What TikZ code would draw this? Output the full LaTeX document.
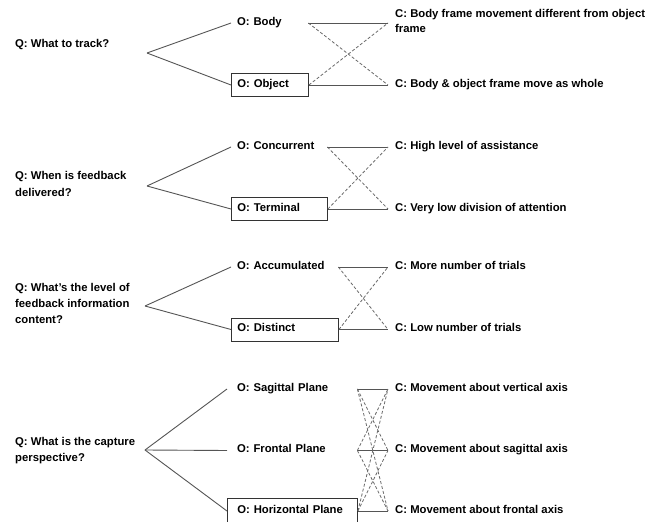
\documentclass[tikz,border=0pt]{standalone}
\usepackage{fontspec}
\setmainfont{Liberation Sans}
\definecolor{linegray}{HTML}{555555}
\definecolor{dashgray}{HTML}{6A6A6A}
\definecolor{boxgray}{HTML}{333333}
\begin{document}
\begin{tikzpicture}[x=1pt,y=-1pt,
  every node/.style={font=\fontsize{11.3}{16}\selectfont\bfseries, text=black},
  qtext/.style={anchor=north west, align=left, inner sep=0pt},
  opt/.style={anchor=west, rectangle, inner xsep=6pt, inner ysep=0pt,
              text height=9pt, text depth=5pt, minimum height=23pt, align=left},
  chosen/.style={draw=boxgray, line width=0.9pt},
  cons/.style={anchor=west, inner xsep=7pt, inner ysep=0pt,
               text height=9pt, text depth=5pt},
  fan/.style={draw=linegray, line width=0.9pt},
  link/.style={draw=linegray, line width=0.9pt},
  cross/.style={draw=dashgray, line width=0.8pt, dash pattern=on 3pt off 2pt}
]
\fill[white] (0,0) rectangle (649,522);
\useasboundingbox (0,0) rectangle (649,522);

% ---------- What to track ----------
\node[qtext] (q1) at (15,38.7) {Q: What to track?};
\coordinate (a1) at (147,53);
\node[opt, text width=65pt] (o11) at (231,23) {O: Body};
\node[opt, chosen, text width=65pt] (o12) at (231,85) {O: Object};
\node[anchor=north west, align=left, inner xsep=7pt, inner ysep=0pt] (c11) at (388,8.7)
  {C: Body frame movement different from object\\[-1pt]frame};
\node[cons] (c12) at (388,85) {C: Body \& object frame move as whole};
\coordinate (e11) at (o11.east -| c11.west);
\coordinate (e12) at (o12.east -| c12.west);
\draw[fan] (a1) -- (o11.west);
\draw[fan] (a1) -- (o12.west);
\draw[link] (o11.east) -- (e11);
\draw[link] (o12.east) -- (e12);
\draw[cross] (o11.east) -- (e12);
\draw[cross] (o12.east) -- (e11);

% ---------- When is feedback delivered ----------
\node[qtext] (q2) at (15,170.7) {Q: When is feedback\\[1pt]delivered?};
\coordinate (a2) at (147,186);
\node[opt, text width=84pt] (o21) at (231,147) {O: Concurrent};
\node[opt, chosen, text width=84pt] (o22) at (231,209) {O: Terminal};
\node[cons] (c21) at (388,147) {C: High level of assistance};
\node[cons] (c22) at (388,209) {C: Very low division of attention};
\coordinate (e21) at (o21.east -| c21.west);
\coordinate (e22) at (o22.east -| c22.west);
\draw[fan] (a2) -- (o21.west);
\draw[fan] (a2) -- (o22.west);
\draw[link] (o21.east) -- (e21);
\draw[link] (o22.east) -- (e22);
\draw[cross] (o21.east) -- (e22);
\draw[cross] (o22.east) -- (e21);

% ---------- Feedback information content ----------
\node[qtext] (q3) at (15,282.7) {Q: What's the level of\\feedback information\\content?};
\coordinate (a3) at (145,306);
\node[opt, text width=95pt] (o31) at (231,267) {O: Accumulated};
\node[opt, chosen, text width=95pt] (o32) at (231,329.5) {O: Distinct};
\node[cons] (c31) at (388,267) {C: More number of trials};
\node[cons] (c32) at (388,329.5) {C: Low number of trials};
\coordinate (e31) at (o31.east -| c31.west);
\coordinate (e32) at (o32.east -| c32.west);
\draw[fan] (a3) -- (o31.west);
\draw[fan] (a3) -- (o32.west);
\draw[link] (o31.east) -- (e31);
\draw[link] (o32.east) -- (e32);
\draw[cross] (o31.east) -- (e32);
\draw[cross] (o32.east) -- (e31);

% ---------- Capture perspective ----------
\node[qtext] (q4) at (15,436.7) {Q: What is the capture\\perspective?};
\coordinate (a4) at (145,450);
\node[opt, text width=118pt] (o41) at (227,389) {\hspace*{4pt}O: Sagittal Plane};
\node[opt, text width=118pt] (o42) at (227,450.5) {\hspace*{4pt}O: Frontal Plane};
\node[opt, chosen, text width=118pt, minimum height=25pt] (o43) at (227,511) {\hspace*{4pt}O: Horizontal Plane};
\node[cons] (c41) at (388,389) {C: Movement about vertical axis};
\node[cons] (c42) at (388,450.5) {C: Movement about sagittal axis};
\node[cons] (c43) at (388,511) {C: Movement about frontal axis};
\coordinate (e41) at (o41.east -| c41.west);
\coordinate (e42) at (o42.east -| c42.west);
\coordinate (e43) at (o43.east -| c43.west);
\draw[fan] (a4) -- (o41.west);
\draw[fan] (a4) -- (o42.west);
\draw[fan] (a4) -- (o43.west);
\draw[link] (o41.east) -- (e41);
\draw[link] (o42.east) -- (e42);
\draw[link] (o43.east) -- (e43);
\draw[cross] (o41.east) -- (e42);
\draw[cross] (o41.east) -- (e43);
\draw[cross] (o42.east) -- (e41);
\draw[cross] (o42.east) -- (e43);
\draw[cross] (o43.east) -- (e41);
\draw[cross] (o43.east) -- (e42);
\end{tikzpicture}
\end{document}
